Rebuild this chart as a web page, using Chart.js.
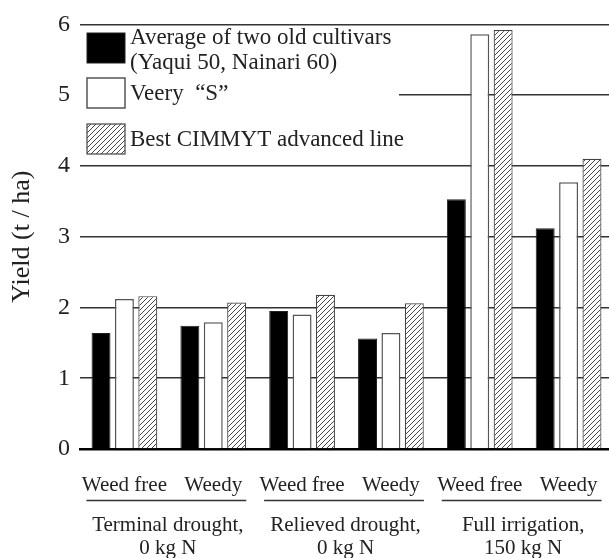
<!DOCTYPE html>
<html>
<head>
<meta charset="utf-8">
<script src="https://cdn.jsdelivr.net/npm/chart.js@4"></script>
<style>
html, body { margin: 0; padding: 0; background: #fff; overflow: hidden; }
#wrap { width: 609px; height: 558px; overflow: hidden; }
</style>
</head>
<body>
<div id="wrap"><canvas id="myChart" width="614" height="558"></canvas></div>
<script>
// data (t/ha)
const categories = ['Weed free', 'Weedy', 'Weed free', 'Weedy', 'Weed free', 'Weedy'];
const groupLabels = [['Terminal drought,', '0 kg N'], ['Relieved drought,', '0 kg N'], ['Full irrigation,', '150 kg N']];
const oldCultivars = [1.64, 1.74, 1.95, 1.56, 3.53, 3.12];
const veeryS = [2.12, 1.79, 1.90, 1.64, 5.86, 3.77];
const cimmytLine = [2.16, 2.07, 2.18, 2.06, 5.92, 4.10];
const yTicks = [0, 1, 2, 3, 4, 5, 6];
const legendLines = [['Average of two old cultivars', '(Yaqui 50, Nainari 60)'], ['Veery  \u201cS\u201d'], ['Best CIMMYT advanced line']];

const FONT = 'Liberation Serif';
const ctx = document.getElementById('myChart').getContext('2d');

function makeHatch() {
    const c = document.createElement('canvas');
    c.width = 5; c.height = 5;
    const g = c.getContext('2d');
    g.fillStyle = '#fff';
    g.fillRect(0, 0, 5, 5);
    g.strokeStyle = '#333';
    g.lineWidth = 0.9;
    g.beginPath();
    g.moveTo(-1, 6); g.lineTo(6, -1);
    g.moveTo(-1, 1); g.lineTo(1, -1);
    g.moveTo(4, 6); g.lineTo(6, 4);
    g.stroke();
    return ctx.createPattern(c, 'repeat');
}
const hatch = makeHatch();

// legend box + bracket labels under the axis
const extras = {
    id: 'extras',
    afterDraw(chart) {
        const c = chart.ctx;
        const ds = chart.data.datasets;
        c.save();
        c.fillStyle = '#fff';
        c.fillRect(78, 27, 321, 133);
        const boxTops = [33, 78, 124];
        const textYs = [[38, 63], [94], [140]];
        ds.forEach((d, i) => {
            c.fillStyle = d.backgroundColor;
            c.fillRect(87, boxTops[i], 38, 30);
            c.lineWidth = d.borderWidth;
            c.strokeStyle = d.borderColor;
            c.strokeRect(87, boxTops[i], 38, 30);
            c.fillStyle = '#222';
            c.font = '23px "' + FONT + '"';
            c.textAlign = 'left';
            c.textBaseline = 'middle';
            legendLines[i].forEach((t, j) => c.fillText(t, 130, textYs[i][j]));
        });

        const xs = chart.scales.x;
        c.strokeStyle = '#333';
        c.lineWidth = 1.5;
        c.font = '21px "' + FONT + '"';
        c.textAlign = 'center';
        groupLabels.forEach((lines, g) => {
            const a = xs.getPixelForValue(g * 2);
            const b = xs.getPixelForValue(g * 2 + 1);
            c.beginPath();
            c.moveTo(a - 38, 500.5);
            c.lineTo(b + 33, 500.5);
            c.stroke();
            const mid = (a + b) / 2 - 1;
            c.fillStyle = '#222';
            c.fillText(lines[0], mid, 525);
            c.fillText(lines[1], mid, 548);
        });
        c.restore();
    }
};

new Chart(ctx, {
    type: 'bar',
    data: {
        labels: categories,
        datasets: [{
            label: 'Average of two old cultivars (Yaqui 50, Nainari 60)',
            data: oldCultivars,
            backgroundColor: '#000',
            borderColor: '#222',
            borderWidth: 1
        }, {
            label: 'Veery "S"',
            data: veeryS,
            backgroundColor: '#fff',
            borderColor: '#555',
            borderWidth: 1.5
        }, {
            label: 'Best CIMMYT advanced line',
            data: cimmytLine,
            backgroundColor: hatch,
            borderColor: '#444',
            borderWidth: 1.2
        }]
    },
    options: {
        responsive: false,
        animation: false,
        layout: { padding: { top: 20, right: 1, left: 0, bottom: 0 } },
        datasets: { bar: { categoryPercentage: 0.79, barPercentage: 0.81 } },
        plugins: { legend: { display: false }, tooltip: { enabled: false } },
        scales: {
            x: {
                grid: { display: false },
                border: { display: true, color: '#000', width: 2.5 },
                ticks: { font: { family: FONT, size: 21 }, color: '#222', padding: 16, maxRotation: 0, autoSkip: false },
                afterFit(s) { s.height = 109; }
            },
            y: {
                min: 0,
                max: 6,
                afterBuildTicks(s) { s.ticks = yTicks.map(v => ({ value: v })); },
                grid: { color: '#333', lineWidth: 1.5, drawTicks: false },
                border: { display: false },
                ticks: { font: { family: FONT, size: 24 }, color: '#222', padding: 10 },
                title: {
                    display: true,
                    text: 'Yield (t / ha)',
                    font: { family: FONT, size: 26 },
                    color: '#222',
                    padding: { top: 7, bottom: 8 }
                },
                afterFit(s) { s.width = 80; }
            }
        }
    },
    plugins: [extras]
});
</script>
</body>
</html>
